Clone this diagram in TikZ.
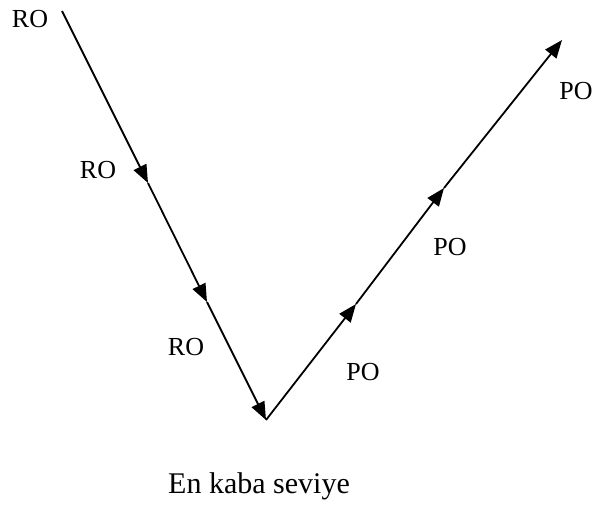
\documentclass[tikz,border=0pt]{standalone}
\usepackage{fontspec}
\setmainfont{Liberation Serif}
\usetikzlibrary{arrows.meta}

\begin{document}
\begin{tikzpicture}[x=1pt, y=-1pt, >={Triangle[length=18pt, width=14pt]},
    leg/.style={->, line width=1.8pt},
    lbl/.style={anchor=base, inner sep=0pt, font=\fontsize{26}{30}\selectfont},
    caption/.style={anchor=base, inner sep=0pt, font=\fontsize{30}{36}\selectfont}]
  \useasboundingbox (0,0) rectangle (593,504);

  % the V
  \coordinate (top) at (62,11);
  \coordinate (r1) at (148,183);
  \coordinate (r2) at (207,302);
  \coordinate (bot) at (266,420);
  \coordinate (p1) at (356,304);
  \coordinate (p2) at (444,188);
  \coordinate (ptop) at (562,40);

  \draw[leg] (top) -- (r1);
  \draw[leg] (r1) -- (r2);
  \draw[leg] (r2) -- (bot);
  \draw[leg] (bot) -- (p1);
  \draw[leg] (p1) -- (p2);
  \draw[leg] (p2) -- (ptop);

  \node[lbl] (ro1) at (30,27) {RO};
  \node[lbl] (ro2) at (98,178) {RO};
  \node[lbl] (ro3) at (186,355) {RO};
  \node[lbl] (po1) at (363,380) {PO};
  \node[lbl] (po2) at (450,255) {PO};
  \node[lbl] (po3) at (576,99) {PO};

  \node[caption] (title) at (259,493) {En kaba seviye};
\end{tikzpicture}
\end{document}
